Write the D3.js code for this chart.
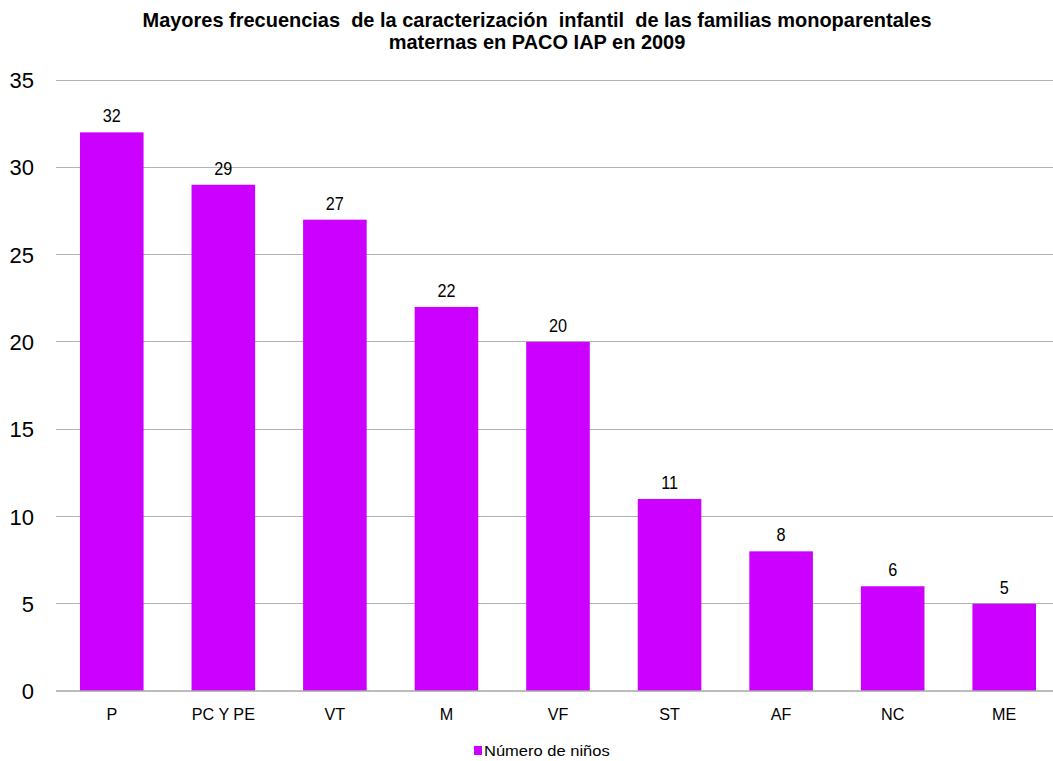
<!DOCTYPE html>
<html><head><meta charset="utf-8">
<script src="https://cdn.jsdelivr.net/npm/d3@7"></script>
<style>body{margin:0;background:#fff}svg{display:block;font-family:"Liberation Sans",Arial,sans-serif}text{white-space:pre}</style>
</head><body><svg id="c" width="1053" height="761"></svg>
<script>
const categories = ["P","PC Y PE","VT","M","VF","ST","AF","NC","ME"];
const values = [32,29,27,22,20,11,8,6,5];
const yTicks = [0,5,10,15,20,25,30,35];
const seriesName = "Número de niños";
const titleLines = ["Mayores frecuencias  de la caracterización  infantil  de las familias monoparentales","maternas en PACO IAP en 2009"];

const svg = d3.select("#c");
const W = 1053, H = 761;
const m = {left:56, right:-7, top:80, bottom:70};
const x = d3.scaleBand().domain(categories).range([m.left, W - m.right]).paddingInner(0.43).paddingOuter(0.215);
const y = d3.scaleLinear().domain([0,35]).range([H - m.bottom, m.top]);

// horizontally squeeze/stretch text to match the reference's rendering
function squeeze(sel, f){
  sel.each(function(){
    const w = this.getComputedTextLength();
    d3.select(this).attr("textLength", w*f).attr("lengthAdjust","spacingAndGlyphs");
  });
}

// gridlines
svg.append("g").selectAll("line").data(yTicks.filter(d=>d>0)).join("line")
  .attr("x1", m.left).attr("x2", W).attr("y1", d=>y(d)).attr("y2", d=>y(d))
  .attr("stroke", "#b3b3b3").attr("stroke-width", 1).attr("shape-rendering","crispEdges");

// y labels
const yAxis = d3.axisLeft(y).tickValues(yTicks).tickSize(0).tickPadding(0);
const ga = svg.append("g").attr("transform", `translate(34,0)`).call(yAxis);
ga.select(".domain").remove();
ga.selectAll("text").attr("font-size", 22).attr("fill", "#000").attr("font-family", "Liberation Sans, Arial, sans-serif").attr("dy","0.35em");

// bars
svg.append("g").selectAll("rect").data(values).join("rect")
  .attr("x", (d,i)=>x(categories[i])).attr("width", x.bandwidth())
  .attr("y", d=>y(d)).attr("height", d=>y(0)-y(d))
  .attr("fill", "#cc00ff");

// value labels
const vl = svg.append("g").selectAll("text").data(values).join("text")
  .attr("x", (d,i)=>x(categories[i]) + x.bandwidth()/2).attr("y", d=>y(d) - 10)
  .attr("text-anchor","middle").attr("font-size", 18).attr("fill","#000").text(d=>d);
squeeze(vl, 0.9);

// x axis line
svg.append("line").attr("x1", m.left).attr("x2", W).attr("y1", y(0)).attr("y2", y(0))
  .attr("stroke","#a6a6a6").attr("stroke-width",1.5);

const xAxis = d3.axisBottom(x).tickSize(0).tickPadding(0);
const gx = svg.append("g").attr("transform", `translate(0,${y(0)+29})`).call(xAxis);
gx.select(".domain").remove();
gx.selectAll("text").attr("font-size", 17).attr("fill","#000").attr("font-family","Liberation Sans, Arial, sans-serif").attr("dy","0");
squeeze(gx.selectAll("text"), 0.95);

// title
const tt = svg.append("g").selectAll("text").data(titleLines).join("text")
  .attr("x", 537).attr("y", (d,i)=>27 + i*22).attr("text-anchor","middle")
  .attr("font-size", 21).attr("font-weight","bold").attr("fill","#000").text(d=>d);
const tw = tt.node().getComputedTextLength();
squeeze(tt, 789 / tw);

// legend
const lg = svg.append("g").attr("transform","translate(474,746)");
lg.append("rect").attr("width",8).attr("height",9).attr("fill","#cc00ff");
const lt = lg.append("text").attr("x",10).attr("y",9.5).attr("font-size",15).attr("fill","#000").text(seriesName);
squeeze(lt, 1.1);
</script></body></html>
